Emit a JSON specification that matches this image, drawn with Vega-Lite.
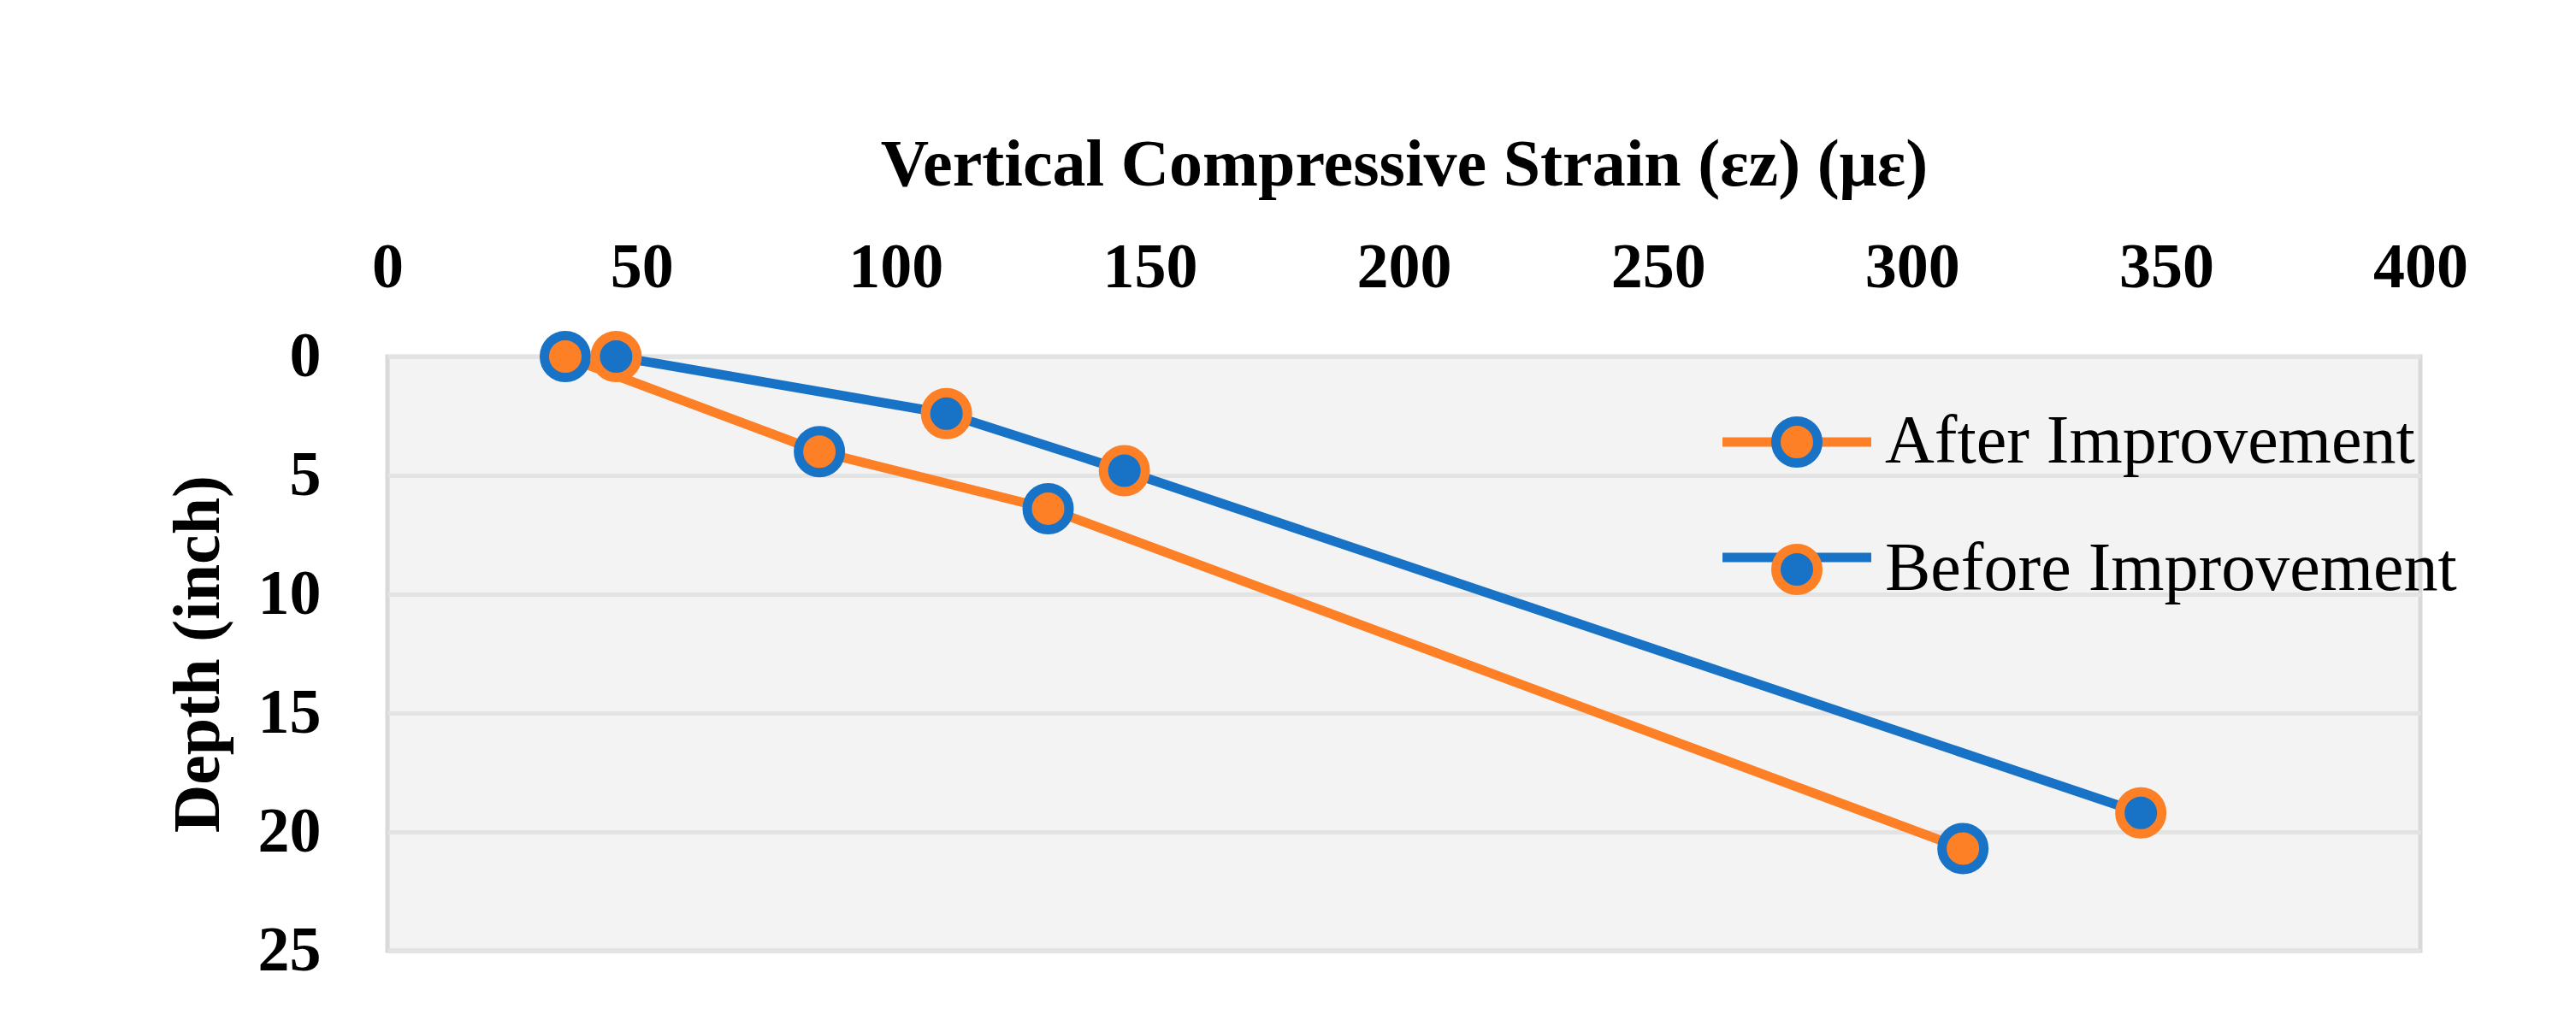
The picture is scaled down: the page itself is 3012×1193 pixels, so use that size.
{
  "$schema": "https://vega.github.io/schema/vega-lite/v6.json",
  "width": 2377,
  "height": 695,
  "autosize": {"type": "none"},
  "padding": {"left": 453, "top": 417, "right": 182, "bottom": 81},
  "background": "white",
  "config": {
    "view": {"stroke": "#d9d9d9", "strokeWidth": 5, "fill": "#f3f3f3"},
    "font": "Liberation Serif"
  },
  "data": {
    "values": [
      {"series": "After Improvement", "strain": 35, "depth": 0},
      {"series": "After Improvement", "strain": 85, "depth": 4.0},
      {"series": "After Improvement", "strain": 130, "depth": 6.4},
      {"series": "After Improvement", "strain": 310, "depth": 20.7},
      {"series": "Before Improvement", "strain": 45, "depth": 0},
      {"series": "Before Improvement", "strain": 110, "depth": 2.4},
      {"series": "Before Improvement", "strain": 145, "depth": 4.8},
      {"series": "Before Improvement", "strain": 345, "depth": 19.2}
    ]
  },
  "encoding": {
    "x": {
      "field": "strain",
      "type": "quantitative",
      "scale": {"domain": [0, 400], "nice": false},
      "axis": {
        "orient": "top",
        "title": "Vertical Compressive Strain (εz) (με)",
        "values": [0, 50, 100, 150, 200, 250, 300, 350, 400],
        "ticks": false,
        "domain": false,
        "grid": false,
        "labelFlush": false,
        "labelOverlap": false,
        "labelFont": "Liberation Serif",
        "labelFontWeight": "bold",
        "labelFontSize": 74,
        "labelColor": "black",
        "labelPadding": 66,
        "titleFont": "Liberation Serif",
        "titleFontWeight": "bold",
        "titleFontSize": 78,
        "titleColor": "black",
        "titlePadding": 44
      }
    },
    "y": {
      "field": "depth",
      "type": "quantitative",
      "scale": {"domain": [0, 25], "reverse": true, "nice": false},
      "axis": {
        "title": "Depth (inch)",
        "values": [0, 5, 10, 15, 20, 25],
        "ticks": false,
        "domain": false,
        "grid": true,
        "gridColor": "#e3e3e3",
        "gridWidth": 5,
        "labelFlush": false,
        "labelOverlap": false,
        "labelFont": "Liberation Serif",
        "labelFontWeight": "bold",
        "labelFontSize": 74,
        "labelColor": "black",
        "labelPadding": 78,
        "titleFont": "Liberation Serif",
        "titleFontWeight": "bold",
        "titleFontSize": 78,
        "titleColor": "black",
        "titlePadding": 30
      }
    }
  },
  "layer": [
    {
      "mark": {"type": "line", "strokeWidth": 11},
      "encoding": {
        "color": {
          "field": "series",
          "type": "nominal",
          "scale": {"domain": ["After Improvement", "Before Improvement"], "range": ["#fd8027", "#1872c6"]},
          "legend": {
            "orient": "none",
            "legendX": 1608,
            "legendY": 60,
            "title": null,
            "padding": 0,
            "symbolType": "M-3.55,0H3.55",
            "symbolSize": 2401,
            "symbolStrokeWidth": 11,
            "labelFont": "Liberation Serif",
            "labelFontSize": 80,
            "labelExpr": "''",
            "labelOffset": 63,
            "rowPadding": 55,
            "zindex": 1
          }
        }
      }
    },
    {
      "mark": {"type": "point", "filled": true, "shape": "circle", "size": 2401, "strokeWidth": 11, "opacity": 1},
      "encoding": {
        "fill": {
          "field": "series",
          "type": "nominal",
          "scale": {"range": ["#fd8027", "#1872c6"]},
          "legend": {
            "orient": "none",
            "legendX": 1608,
            "legendY": 60,
            "title": null,
            "padding": 0,
            "symbolType": "circle",
            "symbolSize": 2401,
            "symbolStrokeWidth": 11,
            "symbolOpacity": 1,
            "labelFont": "Liberation Serif",
            "labelFontSize": 80,
            "labelColor": "black",
            "labelLimit": 1000,
            "labelOffset": 63,
            "rowPadding": 55,
            "zindex": 2
          }
        },
        "stroke": {
          "field": "series",
          "type": "nominal",
          "scale": {"range": ["#1872c6", "#fd8027"]},
          "legend": {
            "orient": "none",
            "legendX": 1608,
            "legendY": 60,
            "title": null,
            "padding": 0,
            "symbolType": "circle",
            "symbolSize": 2401,
            "symbolStrokeWidth": 11,
            "symbolOpacity": 1,
            "labelFont": "Liberation Serif",
            "labelFontSize": 80,
            "labelColor": "black",
            "labelLimit": 1000,
            "labelOffset": 63,
            "rowPadding": 55,
            "zindex": 2
          }
        }
      }
    }
  ]
}
